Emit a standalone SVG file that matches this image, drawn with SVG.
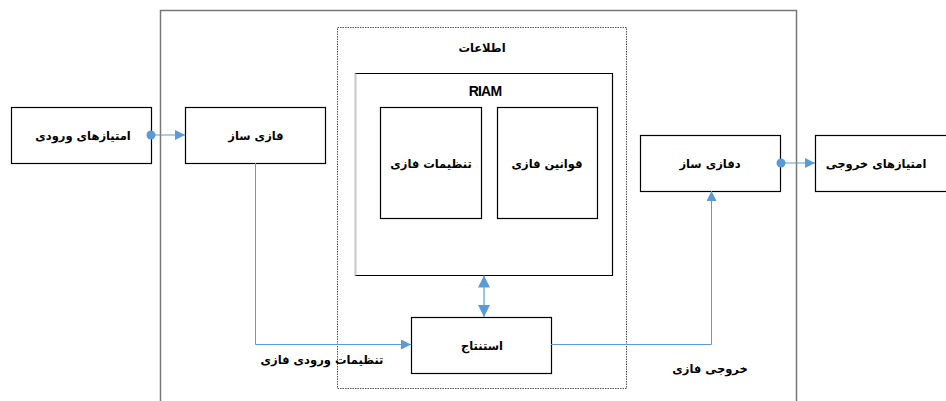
<svg xmlns="http://www.w3.org/2000/svg" width="946" height="401" viewBox="0 0 946 401">
<style>
.box{fill:#fff;stroke:#000;stroke-width:1.2}
.t{font-family:"DejaVu Sans","Noto Sans",sans-serif;font-weight:bold;font-size:11.5px;fill:#000;text-anchor:middle}
.c{fill:none;stroke:#5B9BD5;stroke-width:1.2}
</style>
<defs>
<marker id="ah" viewBox="0 0 10 10" refX="10" refY="5" markerWidth="10" markerHeight="10" markerUnits="userSpaceOnUse" orient="auto-start-reverse"><path d="M0,0 L10,5 L0,10 z" fill="#5B9BD5"/></marker>
<marker id="ah2" viewBox="0 0 12 12" refX="12" refY="6" markerWidth="12" markerHeight="12" markerUnits="userSpaceOnUse" orient="auto-start-reverse"><path d="M0,0 L12,6 L0,12 z" fill="#5B9BD5"/></marker>
</defs>
<rect width="946" height="401" fill="#fff"/>
<g id="frame">
<path d="M160.5,401 V10.5 H796.5 V401" fill="none" stroke="#777" stroke-width="1.5"/>
</g>
<g id="info">
<rect x="337.5" y="27.5" width="289" height="361" fill="none" stroke="#555" stroke-width="1" stroke-dasharray="1.5,1"/>
<text class="t" x="482" y="52">اطلاعات</text>
</g>
<g id="riam">
<path d="M355.5,275.5 V73.5 H612.5 V275.5 Z" fill="none" stroke="#000" stroke-width="1.2"/>
<line x1="355.5" y1="73.5" x2="355.5" y2="275.5" stroke="#ccc" stroke-width="1.5"/>
<text class="t" x="485" y="96" style="font-family:'Liberation Sans',sans-serif;font-size:14px;letter-spacing:-0.8px">RIAM</text>
</g>
<g id="fuzzy-settings">
<rect class="box" x="380.5" y="107.5" width="101" height="111"/>
<text class="t" x="431" y="168">تنظیمات فازی</text>
</g>
<g id="fuzzy-rules">
<rect class="box" x="497.5" y="107.5" width="100" height="111"/>
<text class="t" x="547" y="168">قوانین فازی</text>
</g>
<g id="input-scores">
<rect class="box" x="11.5" y="107.5" width="140" height="56"/>
<text class="t" x="83" y="140">امتیازهای ورودی</text>
</g>
<g id="fuzzifier">
<rect class="box" x="185.5" y="107.5" width="140" height="56"/>
<text class="t" x="256" y="140">فازی ساز</text>
</g>
<g id="defuzzifier">
<rect class="box" x="640.5" y="135.5" width="140" height="56"/>
<text class="t" x="710" y="168">دفازی ساز</text>
</g>
<g id="output-scores">
<rect class="box" x="815.5" y="135.5" width="140" height="56"/>
<text class="t" x="876" y="168">امتیازهای خروجی</text>
</g>
<g id="inference">
<rect class="box" x="411.5" y="317.5" width="140" height="56"/>
<text class="t" x="482" y="350">استنتاج</text>
</g>
<g id="connectors">
<line class="c" x1="151" y1="135" x2="185" y2="135" marker-end="url(#ah)"/>
<circle cx="151" cy="135" r="4.5" fill="#5B9BD5"/>
<line class="c" x1="781" y1="163" x2="815" y2="163" marker-end="url(#ah)"/>
<circle cx="781" cy="163" r="4.5" fill="#5B9BD5"/>
<path class="c" d="M255.5,163 V344.5 H411" marker-end="url(#ah)" style="stroke-width:1"/>
<path class="c" d="M551,344.5 H711.5 V191" marker-end="url(#ah)" style="stroke-width:1"/>
<line class="c" x1="484" y1="275.5" x2="484" y2="317" marker-start="url(#ah2)" marker-end="url(#ah2)"/>
<text class="t" x="322" y="364">تنظیمات ورودی فازی</text>
<text class="t" x="710" y="373">خروجی فازی</text>
</g>
</svg>
